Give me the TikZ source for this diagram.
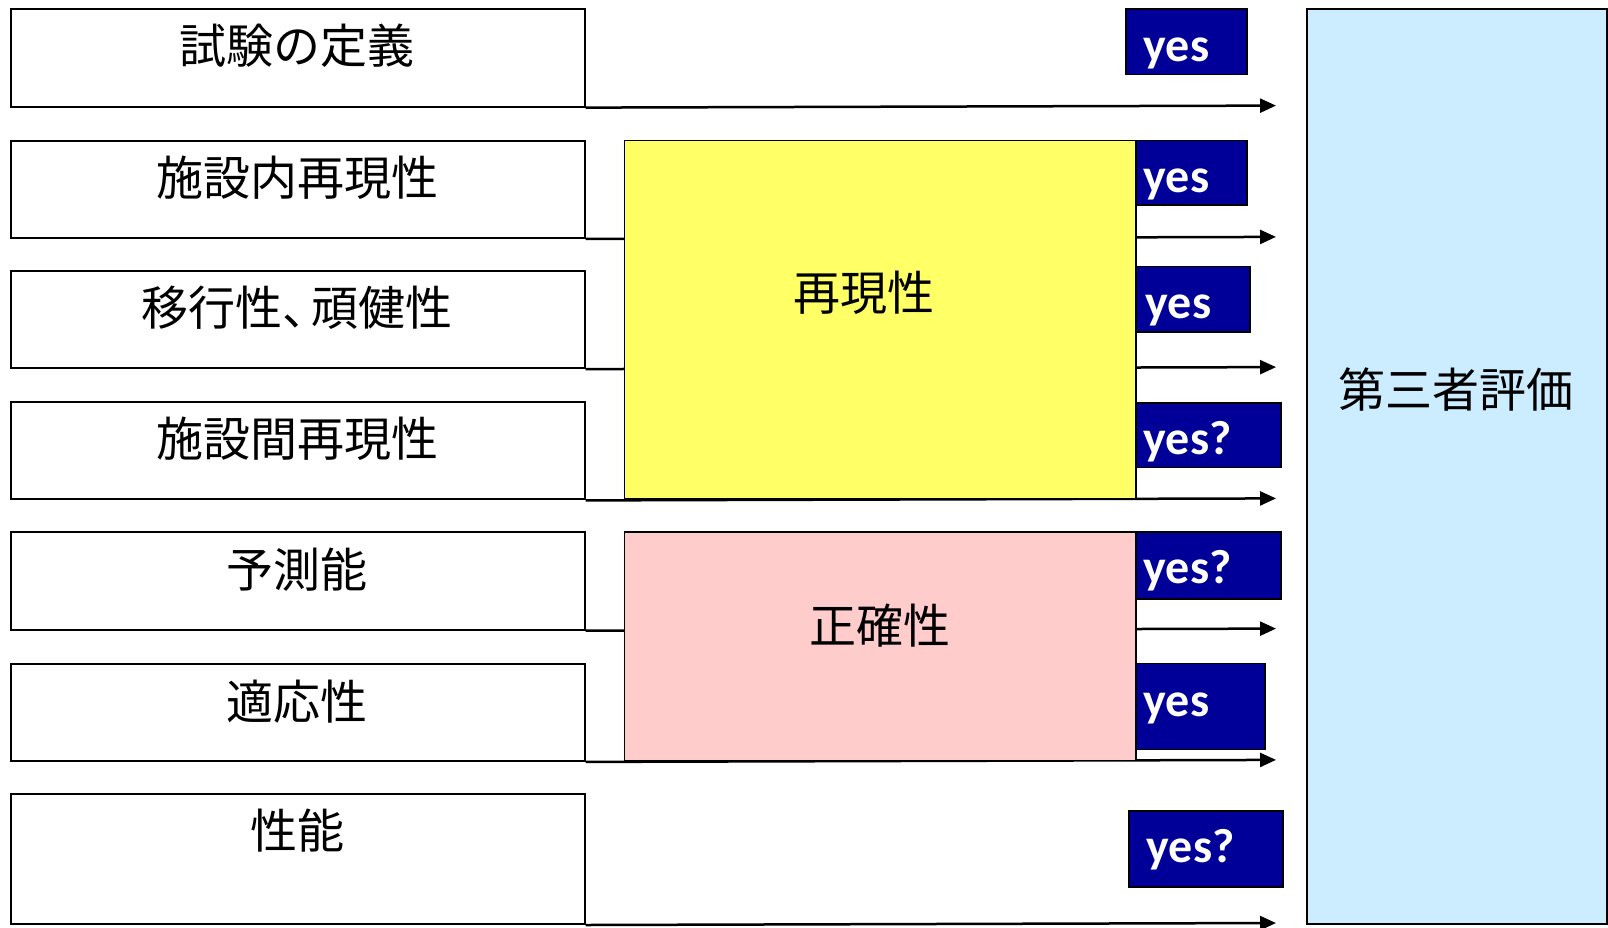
\documentclass[tikz,border=0pt]{standalone}
\usepackage{fontspec}
\newfontfamily\jp{Noto Sans CJK JP}
\newfontfamily\yesfont{Carlito}
\usetikzlibrary{arrows.meta}
\definecolor{navy}{HTML}{000099}
\definecolor{ybox}{HTML}{FFFF66}
\definecolor{pbox}{HTML}{FFCCCC}
\definecolor{bbox}{HTML}{CCECFF}
\begin{document}
\begin{tikzpicture}[x=1pt,y=-1pt,
  lbox/.style={draw=black,line width=2pt,fill=white,anchor=north west,inner sep=0,minimum width=573.5pt},
  jtext/.style={inner sep=0,anchor=center,font=\jp\fontsize{47}{47}\selectfont},
  bigbox/.style={draw=black,line width=1.5pt,anchor=north west,inner sep=0,minimum width=511.5pt},
  yesbox/.style={draw=black,line width=1.5pt,fill=navy,anchor=north west,inner sep=0},
  yestext/.style={inner sep=0,anchor=base west,text=white,font=\yesfont\bfseries\fontsize{48}{48}\selectfont},
  arr/.style={line width=2.5pt,-{Triangle[length=16pt,width=14pt]}}]
\useasboundingbox (0,0) rectangle (1608,927);
% left boxes
\node[lbox,minimum height=97.4pt] (b1) at (10,8.2) {};
\node[lbox,minimum height=97.4pt] (b2) at (10,139.5) {};
\node[lbox,minimum height=97.4pt] (b3) at (10,269.7) {};
\node[lbox,minimum height=97.4pt] (b4) at (10,401) {};
\node[lbox,minimum height=97.4pt] (b5) at (10,531.2) {};
\node[lbox,minimum height=97.4pt] (b6) at (10,662.5) {};
\node[lbox,minimum height=130.3pt] (b7) at (10,792.7) {};
\node[jtext] (t1) at (297,46) {試験の定義};
\node[jtext] (t2) at (297,177.4) {施設内再現性};
\node[jtext] (t3) at (297,307.7) {移行性、\kern-0.4em 頑健性};
\node[jtext] (t4) at (297,439) {施設間再現性};
\node[jtext] (t5) at (297,570) {予測能};
\node[jtext] (t6) at (297,701.5) {適応性};
\node[jtext] (t7) at (297,830.6) {性能};
% arrow ends
\coordinate (e1) at (1276,105.6);
\coordinate (e2) at (1276,236.9);
\coordinate (e3) at (1276,367.1);
\coordinate (e4) at (1276,498.4);
\coordinate (e5) at (1276,628.6);
\coordinate (e6) at (1276,759.9);
\coordinate (e7) at (1276,923);
\draw[arr] (b1.south east) -- (e1);
\draw[arr] (b2.south east) -- (e2);
\draw[arr] (b3.south east) -- (e3);
\draw[arr] (b4.south east) -- (e4);
\draw[arr] (b5.south east) -- (e5);
\draw[arr] (b6.south east) -- (e6);
\draw[arr] (b7.south east) -- (e7);
% middle boxes
\node[bigbox,fill=ybox,minimum height=358.9pt] (repro) at (623.5,139.5) {};
\node[jtext] (reprot) at (863.5,292.3) {再現性};
\node[bigbox,fill=pbox,minimum height=228.7pt] (acc) at (623.5,531.2) {};
\node[jtext] (acct) at (880,625.5) {正確性};
% yes boxes
\node[yesbox,minimum width=121pt,minimum height=65.6pt] (y1) at (1125,8.2) {};
\node[yesbox,minimum width=111pt,minimum height=64.5pt] (y2) at (1135,139.5) {};
\node[yesbox,minimum width=114pt,minimum height=65.4pt] (y3) at (1135,265.6) {};
\node[yesbox,minimum width=145pt,minimum height=64.6pt] (y4) at (1135,402) {};
\node[yesbox,minimum width=145pt,minimum height=67pt] (y5) at (1135,531) {};
\node[yesbox,minimum width=129pt,minimum height=86.1pt] (y6) at (1135,662.5) {};
\node[yesbox,minimum width=154pt,minimum height=76pt] (y7) at (1128,810) {};
\node[yestext] (yt1) at (1143.5,61.5) {yes};
\node[yestext] (yt2) at (1143.5,192.7) {yes};
\node[yestext] (yt3) at (1145.5,318.9) {yes};
\node[yestext] (yt4) at (1143.5,454.2) {yes?};
\node[yestext] (yt5) at (1143.5,583.5) {yes?};
\node[yestext] (yt6) at (1143.5,716.8) {yes};
\node[yestext] (yt7) at (1146.5,862.4) {yes?};
% third-party box
\node[draw=black,line width=1.5pt,fill=bbox,anchor=north west,inner sep=0,minimum width=300pt,minimum height=914.8pt] (third) at (1306,8.2) {};
\node[jtext] (thirdt) at (1456,389.7) {第三者評価};
\end{tikzpicture}
\end{document}
